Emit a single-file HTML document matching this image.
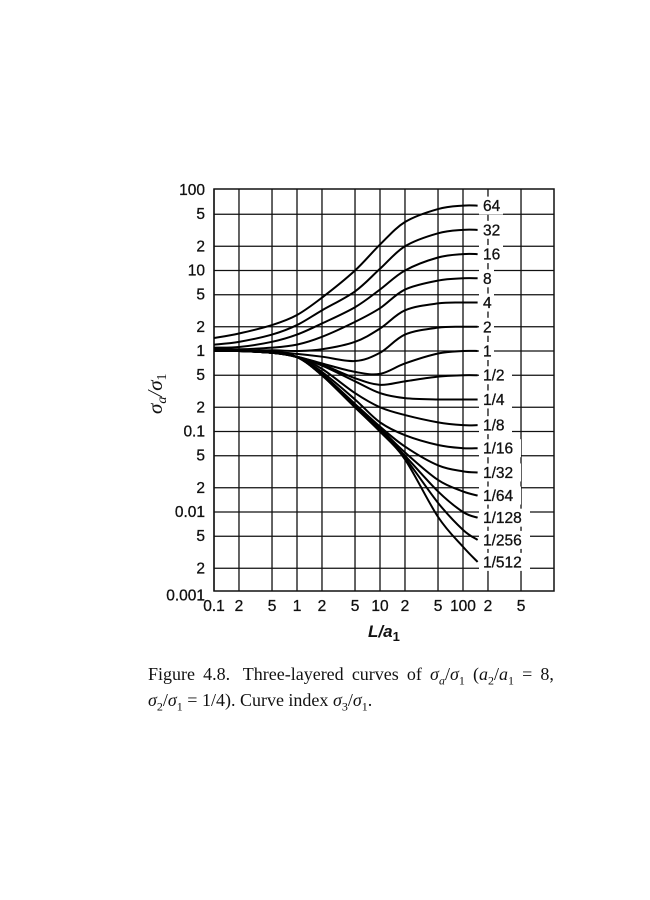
<!DOCTYPE html>
<html><head><meta charset="utf-8">
<style>
html,body{margin:0;padding:0;background:#fff;}
body{width:650px;height:900px;position:relative;overflow:hidden;}
svg{position:absolute;left:0;top:0;}
.cap{position:absolute;left:148px;width:406px;font-family:"Liberation Serif",serif;font-size:18px;color:#111;white-space:nowrap;}
</style></head>
<body>
<svg id="chart" width="650" height="900" xmlns="http://www.w3.org/2000/svg"></svg>
<div class="cap" style="top:664px;display:flex;justify-content:space-between;"><span>Figure</span><span>4.8.</span><span>&nbsp;Three-layered</span><span>curves</span><span>of</span><span><i>σ<sub style="font-size:12px">a</sub></i>/<i>σ</i><sub style="font-size:12px">1</sub></span><span>(<i>a</i><sub style="font-size:12px">2</sub>/<i>a</i><sub style="font-size:12px">1</sub></span><span>=</span><span>8,</span></div>
<div class="cap" style="top:690px;"><i>σ</i><sub style="font-size:12px">2</sub>/<i>σ</i><sub style="font-size:12px">1</sub> = 1/4). Curve index <i>σ</i><sub style="font-size:12px">3</sub>/<i>σ</i><sub style="font-size:12px">1</sub>.</div>
<script>
const xPoints = [0.1,0.2,0.5,1,2,5,10,20,50,100,150];
const curveLabels = ["64","32","16","8","4","2","1","1/2","1/4","1/8","1/16","1/32","1/64","1/128","1/256","1/512"];
const s64  = [1.45,1.65,2.1,2.8,4.6,10,21,40,58,64,64];
const s32  = [1.2,1.3,1.6,2.1,3.2,5.5,10.5,20,29,32,32];
const s16  = [1.1,1.12,1.3,1.6,2.2,3.5,5.8,10,14.5,16,16];
const s8   = [1.05,1.05,1.1,1.2,1.5,2.3,3.4,5.8,7.5,8,8];
const s4   = [1.0,1.0,1.02,1.0,1.05,1.3,1.9,3.2,3.9,4,4];
const s2   = [1,1,0.98,0.92,0.85,0.75,0.95,1.6,1.95,2,2];
const s1   = [1,1,0.95,0.85,0.7,0.55,0.52,0.7,0.93,1,1];
const s1_2 = [1,1,0.95,0.85,0.68,0.46,0.38,0.42,0.48,0.5,0.5];
const s1_4 = [1,1,0.95,0.84,0.66,0.42,0.3,0.26,0.25,0.25,0.25];
const s1_8 = [1,1,0.95,0.84,0.6,0.3,0.2,0.16,0.13,0.12,0.12];
const s1_16 = [1,1,0.95,0.84,0.55,0.25,0.13,0.09,0.068,0.062,0.062];
const s1_32 = [1,1,0.95,0.84,0.52,0.22,0.115,0.065,0.038,0.032,0.031];
const s1_64 = [1,1,0.95,0.84,0.5,0.21,0.11,0.055,0.025,0.018,0.016];
const s1_128 = [1,1,0.95,0.84,0.5,0.2,0.105,0.05,0.018,0.010,0.0085];
const s1_256 = [1,1,0.95,0.84,0.5,0.2,0.1,0.047,0.013,0.006,0.0045];
const s1_512 = [1,1,0.95,0.84,0.5,0.2,0.1,0.045,0.0087,0.0037,0.0024];
const seriesList = [s64,s32,s16,s8,s4,s2,s1,s1_2,s1_4,s1_8,s1_16,s1_32,s1_64,s1_128,s1_256,s1_512];
const xTickValues = [0.1,0.2,0.5,1,2,5,10,20,50,100,200,500];
const xTickLabels = ["0.1","2","5","1","2","5","10","2","5","100","2","5"];
const yTickValues = [100,50,20,10,5,2,1,0.5,0.2,0.1,0.05,0.02,0.01,0.005,0.002,0.001];
const yTickLabels = ["100","5","2","10","5","2","1","5","2","0.1","5","2","0.01","5","2","0.001"];

const NS="http://www.w3.org/2000/svg";
const svg=document.getElementById('chart');
const L=214,R=554,T=189,B=591;
const X0=214, XDEC=83;
const Y0=351, YDEC=80.5;
function xs(v){return X0+(Math.log10(v)+1)*XDEC;}
function ys(v){return Y0-Math.log10(v)*YDEC;}
function mk(tag,attrs){const e=document.createElementNS(NS,tag);for(const k in attrs)e.setAttribute(k,attrs[k]);svg.appendChild(e);return e;}
const F='"Liberation Sans", Arial, sans-serif';

xTickValues.forEach((v,i)=>{
  const l=mk('line',{x1:xs(v),x2:xs(v),y1:T,y2:B,stroke:'#111','stroke-width':1.3});
  
  
  const t=mk('text',{x:xs(v),y:611,'text-anchor':'middle','font-family':F,'font-size':15.5,fill:'#111',stroke:'#111','stroke-width':0.3});
  t.textContent=xTickLabels[i];
  
  
});
yTickValues.forEach((v,i)=>{
  const y=ys(v);
  if(y>T+1&&y<B-1){
    const l=mk('line',{x1:L,x2:R,y1:y,y2:y,stroke:'#111','stroke-width':1.3});
    
    
  }
  const t=mk('text',{x:205,y:y+5+(i===yTickValues.length-1?3:0),'text-anchor':'end','font-family':F,'font-size':15.5,fill:'#111',stroke:'#111','stroke-width':0.3});
  t.textContent=yTickLabels[i];
  
  
});
const frame=mk('rect',{x:L,y:T,width:R-L,height:B-T,fill:'none',stroke:'#111','stroke-width':1.5});



seriesList.forEach((s,i)=>{
  const pts=xPoints.map((x,j)=>[xs(x),ys(s[j])]);
  let d='M'+pts[0][0]+','+pts[0][1];
  for(let k=0;k<pts.length-1;k++){
    const p0=pts[Math.max(0,k-1)],p1=pts[k],p2=pts[k+1],p3=pts[Math.min(pts.length-1,k+2)];
    const c1=[p1[0]+(p2[0]-p0[0])/6,p1[1]+(p2[1]-p0[1])/6];
    const c2=[p2[0]-(p3[0]-p1[0])/6,p2[1]-(p3[1]-p1[1])/6];
    d+=' C'+c1[0]+','+c1[1]+' '+c2[0]+','+c2[1]+' '+p2[0]+','+p2[1];
  }
  const p=mk('path',{d:d,fill:'none',stroke:'#000','stroke-width':2});
  
  
  const ey=ys(s[s.length-1]);
  const bg=mk('rect',{x:479,y:ey-9,width:curveLabels[i].length*9+6,height:18,fill:'#fff'});
  
  
  const t=mk('text',{x:483,y:ey+5.5,'font-family':F,'font-size':15.5,fill:'#111',stroke:'#111','stroke-width':0.3});
  t.textContent=curveLabels[i];
  
  
});

const xt=mk('text',{x:368,y:637,'font-family':F,'font-size':17,'font-style':'italic','font-weight':'bold',fill:'#111'});
xt.innerHTML='L/a<tspan font-size="13" dy="4" font-style="normal">1</tspan>';


const yt=mk('text',{x:0,y:0,'font-family':'"Liberation Serif", serif','font-size':21,'font-style':'italic',fill:'#111',transform:'translate(162,414) rotate(-90)'});
yt.innerHTML='σ<tspan font-size="14" dy="4">a</tspan><tspan dy="-4">/σ</tspan><tspan font-size="14" dy="4" font-style="normal">1</tspan>';


</script>
</body></html>
